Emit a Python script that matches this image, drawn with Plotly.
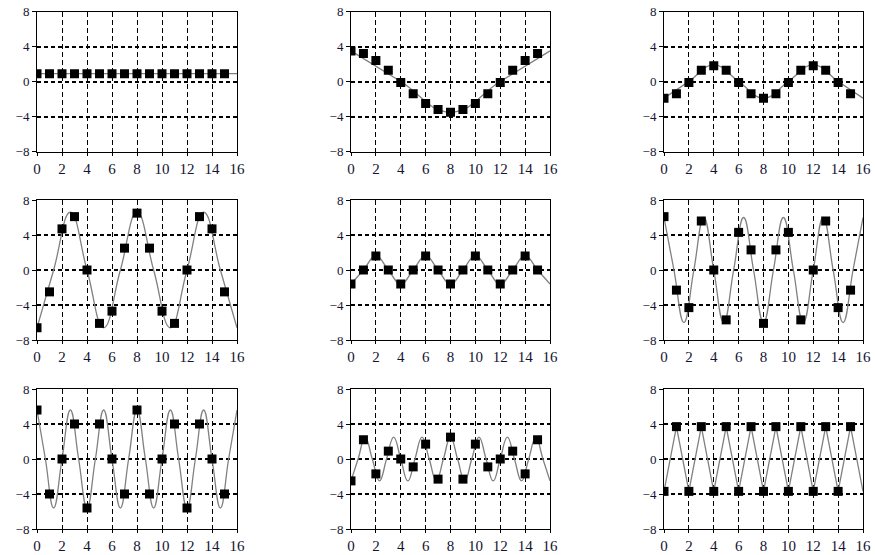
import plotly.graph_objects as go
from plotly.subplots import make_subplots

# sample index
n = [0, 1, 2, 3, 4, 5, 6, 7, 8, 9, 10, 11, 12, 13, 14, 15]

s1 = [0.9, 0.9, 0.9, 0.9, 0.9, 0.9, 0.9, 0.9, 0.9, 0.9, 0.9, 0.9, 0.9, 0.9, 0.9, 0.9]
s2 = [3.5, 3.2, 2.4, 1.3, -0.1, -1.4, -2.5, -3.2, -3.5, -3.2, -2.5, -1.4, -0.1, 1.3, 2.4, 3.2]
s3 = [-1.9, -1.4, -0.1, 1.3, 1.8, 1.3, -0.1, -1.4, -1.9, -1.4, -0.1, 1.3, 1.8, 1.3, -0.1, -1.4]
s4 = [-6.6, -2.5, 4.7, 6.1, 0, -6.1, -4.7, 2.5, 6.5, 2.5, -4.7, -6.1, 0, 6.1, 4.7, -2.5]
s5 = [-1.6, 0, 1.6, 0, -1.6, 0, 1.6, 0, -1.6, 0, 1.6, 0, -1.6, 0, 1.6, 0]
s6 = [6.1, -2.3, -4.3, 5.6, 0, -5.7, 4.3, 2.3, -6.1, 2.3, 4.3, -5.7, 0, 5.6, -4.3, -2.3]
s7 = [5.6, -4.0, 0, 4.0, -5.6, 4.0, 0, -4.0, 5.6, -4.0, 0, 4.0, -5.6, 4.0, 0, -4.0]
s8 = [-2.5, 2.2, -1.7, 0.9, 0, -0.9, 1.7, -2.3, 2.5, -2.3, 1.7, -0.9, 0, 0.9, -1.7, 2.2]
s9 = [-3.7, 3.7, -3.7, 3.7, -3.7, 3.7, -3.7, 3.7, -3.7, 3.7, -3.7, 3.7, -3.7, 3.7, -3.7, 3.7]

# continuous curves: peaks, troughs and zero crossings
c1x = [0, 16]
c1y = [0.9, 0.9]
c2x = [0, 4, 8, 12, 16]
c2y = [3.5, 0, -3.5, 0, 3.5]
c3x = [0, 2, 4, 6, 8, 10, 12, 14, 16]
c3y = [-1.9, 0, 1.9, 0, -1.9, 0, 1.9, 0, -1.9]
c4x = [0, 1.33, 2.67, 4, 5.33, 6.67, 8, 9.33, 10.67, 12, 13.33, 14.67, 16]
c4y = [-6.6, 0, 6.6, 0, -6.6, 0, 6.6, 0, -6.6, 0, 6.6, 0, -6.6]
c5x = [0, 1, 2, 3, 4, 5, 6, 7, 8, 9, 10, 11, 12, 13, 14, 15, 16]
c5y = [-1.6, 0, 1.6, 0, -1.6, 0, 1.6, 0, -1.6, 0, 1.6, 0, -1.6, 0, 1.6, 0, -1.6]
c6x = [0, 0.8, 1.6, 2.4, 3.2, 4.0, 4.8, 5.6, 6.4, 7.2, 8.0, 8.8, 9.6, 10.4, 11.2,
       12.0, 12.8, 13.6, 14.4, 15.2, 16.0]
c6y = [6, 0, -6, 0, 6, 0, -6, 0, 6, 0, -6, 0, 6, 0, -6, 0, 6, 0, -6, 0, 6]
c7x = [0, 0.67, 1.33, 2, 2.67, 3.33, 4, 4.67, 5.33, 6, 6.67, 7.33, 8, 8.67, 9.33,
       10, 10.67, 11.33, 12, 12.67, 13.33, 14, 14.67, 15.33, 16]
c7y = [5.6, 0, -5.6, 0, 5.6, 0, -5.6, 0, 5.6, 0, -5.6, 0, 5.6, 0, -5.6, 0,
       5.6, 0, -5.6, 0, 5.6, 0, -5.6, 0, 5.6]
c8x = [0, 0.57, 1.14, 1.71, 2.29, 2.86, 3.43, 4, 4.57, 5.14, 5.71, 6.29, 6.86, 7.43,
       8, 8.57, 9.14, 9.71, 10.29, 10.86, 11.43, 12, 12.57, 13.14, 13.71, 14.29,
       14.86, 15.43, 16]
c8y = [-2.5, 0, 2.5, 0, -2.5, 0, 2.5, 0, -2.5, 0, 2.5, 0, -2.5, 0, 2.5, 0,
       -2.5, 0, 2.5, 0, -2.5, 0, 2.5, 0, -2.5, 0, 2.5, 0, -2.5]
c9x = [0, 1, 2, 3, 4, 5, 6, 7, 8, 9, 10, 11, 12, 13, 14, 15, 16]
c9y = [-3.7, 3.7, -3.7, 3.7, -3.7, 3.7, -3.7, 3.7, -3.7, 3.7, -3.7, 3.7, -3.7, 3.7, -3.7, 3.7, -3.7]

x_ticks = [0, 2, 4, 6, 8, 10, 12, 14, 16]
y_ticks = [-8, -4, 0, 4, 8]

samples = [s1, s2, s3, s4, s5, s6, s7, s8, s9]
curves = [(c1x, c1y), (c2x, c2y), (c3x, c3y), (c4x, c4y), (c5x, c5y),
          (c6x, c6y), (c7x, c7y), (c8x, c8y), (c9x, c9y)]

W, H = 875, 555
col_px = [(37, 237), (351, 550), (664, 863)]
row_px = [(11.5, 151.5), (200, 340), (389, 529)]

fig = make_subplots(rows=3, cols=3)

for i in range(9):
	r = i // 3 + 1
	c = i % 3 + 1
	cx, cy = curves[i]
	shape = "linear" if i in (0, 8) else "spline"
	fig.add_trace(go.Scatter(x=cx, y=cy, mode="lines", line_shape=shape,
		line=dict(color="#808080", width=1.3, smoothing=1.3), hoverinfo="skip"), r, c)
	fig.add_trace(go.Scatter(x=n, y=samples[i], mode="markers",
		marker=dict(symbol="square", size=9, color="black")), r, c)

	x0, x1 = col_px[c - 1]
	y0, y1 = row_px[r - 1]
	fig.update_xaxes(domain=[x0 / W, x1 / W], range=[0, 16], tickvals=x_ticks,
		showgrid=True, gridcolor="black", gridwidth=1, griddash="5px,3px",
		zeroline=False, showline=True, mirror=True, linecolor="black", linewidth=1,
		ticks="outside", ticklen=3, tickcolor="black", automargin=False,
		tickfont=dict(size=15), row=r, col=c)
	fig.update_yaxes(domain=[1 - y1 / H, 1 - y0 / H], range=[-8, 8], tickvals=y_ticks,
		showgrid=True, gridcolor="black", gridwidth=2, griddash="4px,3px",
		zeroline=False, showline=True, mirror=True, linecolor="black", linewidth=1,
		ticks="outside", ticklen=4, tickcolor="black", automargin=False,
		tickfont=dict(size=13), row=r, col=c)

fig.update_layout(width=W, height=H, margin=dict(l=0, r=0, t=0, b=0),
	showlegend=False, plot_bgcolor="white", paper_bgcolor="white",
	font=dict(family="Liberation Serif", color="#141430"))

# drop the default page margin so the figure sits at the window corner
fig.write_html("out.html", config={"displayModeBar": False},
	post_script="document.body.style.margin='0';")
